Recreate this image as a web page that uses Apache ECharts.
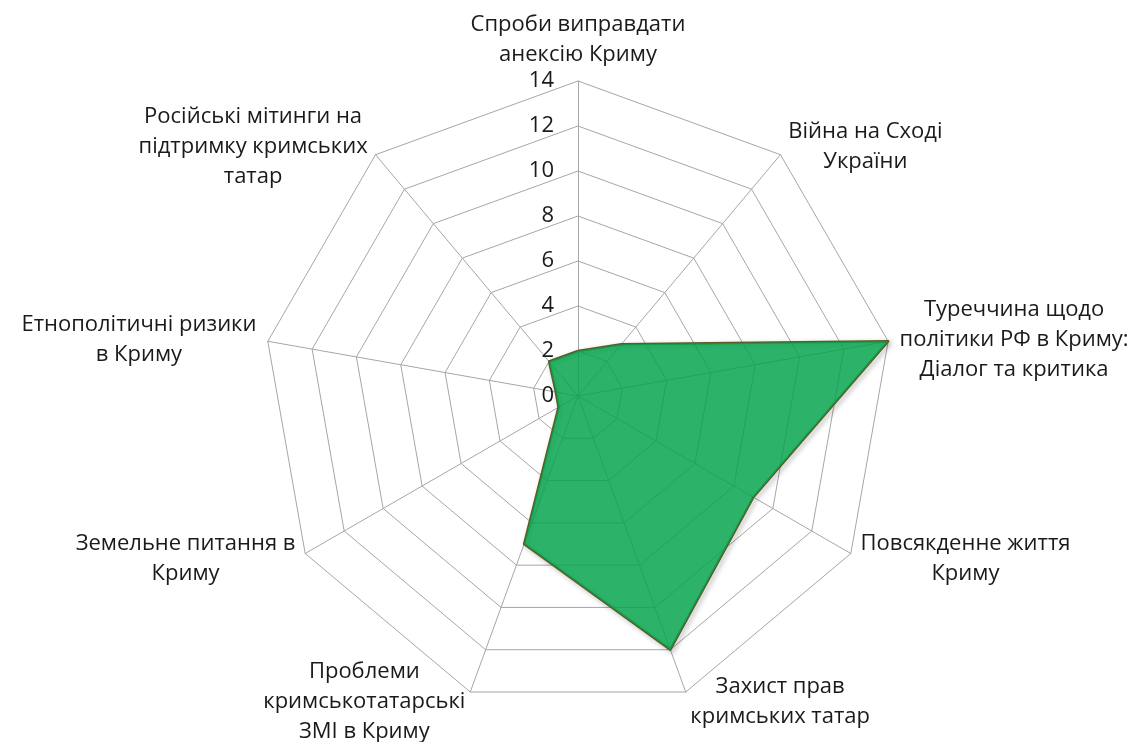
<!DOCTYPE html>
<html>
<head>
<meta charset="utf-8">
<script src="https://cdn.jsdelivr.net/npm/echarts@6/dist/echarts.min.js"></script>
<style>
  html, body { margin: 0; padding: 0; background: #fff; }
  #chart { width: 1148px; height: 742px; }
</style>
</head>
<body>
<div id="chart"></div>
<script>
// Радарна діаграма: теми публікацій (clockwise from the top, as in the picture)
const TOPICS = [
  'Спроби виправдати\nанексію Криму',
  'Війна на Сході\nУкраїни',
  'Туреччина щодо\nполітики РФ в Криму:\nДіалог та критика',
  'Повсякденне життя\nКриму',
  'Захист прав\nкримських татар',
  'Проблеми\nкримськотатарські\nЗМІ в Криму',
  'Земельне питання в\nКриму',
  'Етнополітичні ризики\nв Криму',
  'Російські мітинги на\nпідтримку кримських\nтатар'
]
const COUNTS = [2, 3, 14, 9, 12, 7, 1, 1, 2]
const AXIS_MAX = 14
const AXIS_STEP = 2

const FONT = '"Open Sans", "Noto Sans", sans-serif'
const FSIZE = 22

// echarts lays indicators out counter-clockwise, so flip everything after the first
const order = [0].concat(TOPICS.map((_, i) => i).slice(1).reverse())

// centre each label's lines inside a box as wide as its longest line
const ctx = document.createElement('canvas').getContext('2d')
ctx.font = FSIZE + 'px ' + FONT
const rich = {}
TOPICS.forEach((t, i) => {
  const w = Math.max(...t.split('\n').map(s => ctx.measureText(s).width))
  rich['t' + i] = { width: Math.ceil(w) + 2, align: 'center', fontSize: FSIZE, fontFamily: FONT, color: '#1a1a1a', lineHeight: 30 }
})

const chart = echarts.init(document.getElementById('chart'))
chart.setOption({
  animation: false,
  radar: {
    center: [578, 396],
    radius: 315,
    shape: 'polygon',
    splitNumber: AXIS_MAX / AXIS_STEP,
    nameGap: 10,
    indicator: order.map((k, j) => {
      const ind = { name: TOPICS[k], min: 0, max: AXIS_MAX }
      if (j === 0) ind.axisLabel = { show: true }
      return ind
    }),
    axisName: {
      formatter: name => {
        const i = TOPICS.indexOf(name)
        return name.split('\n').map(s => '{t' + i + '|' + s + '}').join('\n')
      },
      rich: rich,
      color: '#1a1a1a',
      fontSize: FSIZE,
      fontFamily: FONT,
      lineHeight: 30
    },
    axisLabel: {
      show: false,
      color: '#1a1a1a',
      fontSize: FSIZE,
      fontFamily: FONT,
      margin: 24
    },
    axisLine: { lineStyle: { color: '#a6a6a6', width: 1 } },
    splitLine: { lineStyle: { color: '#a6a6a6', width: 1 } },
    splitArea: { show: false },
    axisTick: { show: false }
  },
  series: [{
    type: 'radar',
    symbol: 'none',
    data: [{
      value: order.map(k => COUNTS[k]),
      lineStyle: {
        color: '#5b5a25', width: 2.5,
        shadowColor: 'rgba(0,0,0,0.35)', shadowBlur: 5, shadowOffsetX: 2, shadowOffsetY: 2
      },
      areaStyle: { color: '#08a54f', opacity: 0.85 }
    }]
  }]
})
</script>
</body>
</html>
